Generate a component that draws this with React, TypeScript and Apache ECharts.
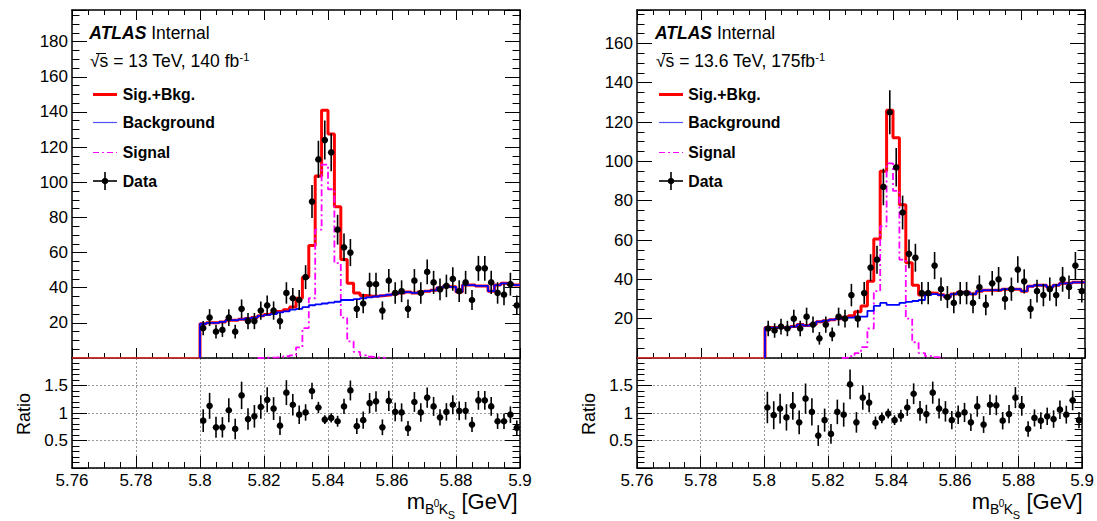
import React, { useEffect, useRef } from 'react';
import * as echarts from 'echarts';

// ---------- binning ----------
const binLow = 5.8;
const binWidth = 0.002;
const xMin = 5.76;
const xMax = 5.9;
const xTickStep = 0.02;

// ---------- left panel (13 TeV, 140 fb-1) ----------
const dataL = [17, 23, 15, 16, 23, 15, 28, 21, 21, 27, 30, 27, 21, 37, 34, 33, 46, 89, 113, 124, 117, 73, 63, 60, 28, 31, 42, 42, 27, 44, 37, 38, 28, 44, 37, 49, 43, 39, 41, 45, 38, 43, 33, 51, 51, 43, 37, 36, 42, 30];
const errL = [4.1, 4.8, 3.9, 4.0, 4.8, 3.9, 5.3, 4.6, 4.6, 5.2, 5.5, 5.2, 4.6, 6.1, 5.8, 5.7, 6.8, 9.4, 10.6, 11.1, 10.8, 8.5, 7.9, 7.7, 5.3, 5.6, 6.5, 6.5, 5.2, 6.6, 6.1, 6.2, 5.3, 6.6, 6.1, 7.0, 6.6, 6.2, 6.4, 6.7, 6.2, 6.6, 5.7, 7.1, 7.1, 6.6, 6.1, 6.0, 6.5, 5.5];
const bkgL = [19.5, 20, 20, 20.5, 21.5, 21.5, 22, 22.5, 23, 24, 24.5, 25, 26, 26.5, 27.5, 28, 29, 30, 30.5, 31, 31.5, 32, 33, 33, 33.5, 34, 34.5, 35, 35.5, 36, 36.5, 37, 37.5, 37, 37.5, 38, 38.5, 40, 41, 40.5, 37.5, 41.5, 41.5, 41, 41, 38, 41.5, 42.5, 42, 41.5];
const sigL = [0, 0, 0, 0, 0, 0, 0, 0, 0, 0.1, 0.2, 0.3, 0.5, 1, 1.5, 6, 17, 34, 73, 110, 96, 54, 23, 9.5, 3.5, 1.5, 0.7, 0.3, 0.1, 0, 0, 0, 0, 0, 0, 0, 0, 0, 0, 0, 0, 0, 0, 0, 0, 0, 0, 0, 0, 0];
const ratioL = [0.86, 1.13, 0.74, 0.74, 1.05, 0.71, 1.32, 0.89, 0.94, 1.11, 1.24, 1.08, 0.77, 1.37, 1.15, 0.97, 1.01, 1.40, 1.10, 0.88, 0.91, 0.85, 1.12, 1.41, 0.76, 0.87, 1.18, 1.21, 0.74, 1.22, 1.02, 1.01, 0.72, 1.20, 1.01, 1.28, 1.12, 0.92, 1.02, 1.15, 1.04, 1.04, 0.79, 1.23, 1.23, 1.12, 0.85, 0.85, 0.97, 0.73];

// ---------- right panel (13.6 TeV, 175 fb-1) ----------
const dataR = [15, 14, 16, 15, 20, 15, 21, 17, 10, 17, 12, 21, 20, 32, 20, 33, 46, 50, 87, 125, 97, 74, 53, 51, 33, 33, 47, 35, 31, 28, 33, 33, 28, 36, 27, 38, 40, 30, 35, 45, 39, 25, 34, 32, 35, 32, 40, 36, 47, 34];
const errR = [3.9, 3.7, 4.0, 3.9, 4.5, 3.9, 4.6, 4.1, 3.2, 4.1, 3.5, 4.6, 4.5, 5.7, 4.5, 5.7, 6.8, 7.1, 9.3, 11.2, 9.8, 8.6, 7.3, 7.1, 5.7, 5.7, 6.9, 5.9, 5.6, 5.3, 5.7, 5.7, 5.3, 6.0, 5.2, 6.2, 6.3, 5.5, 5.9, 6.7, 6.2, 5.0, 5.8, 5.7, 5.9, 5.7, 6.3, 6.0, 6.9, 5.8];
const bkgR = [15.5, 15.5, 15.5, 15.5, 16, 17, 16.5, 17, 18.5, 19, 19.5, 20, 20.5, 20.5, 21, 21, 24, 26.5, 28, 27, 27, 28, 28.5, 29, 29.5, 32, 32.5, 32, 31, 32.5, 33.5, 33.5, 32.5, 34, 34.5, 34.5, 34.5, 35, 35, 35, 34, 36.5, 37, 37, 36, 37, 38, 38, 38.5, 38.5];
const sigR = [0, 0, 0, 0, 0, 0, 0, 0, 0, 0, 0, 0, 0.2, 1, 2.5, 5.5, 15, 34, 67, 99, 85, 50, 20, 8, 2.5, 1, 0.4, 0.2, 0, 0, 0, 0, 0, 0, 0, 0, 0, 0, 0, 0, 0, 0, 0, 0, 0, 0, 0, 0, 0, 0];
const ratioR = [1.10, 0.96, 1.08, 0.92, 1.13, 0.83, 1.26, 1.02, 0.59, 0.87, 0.62, 1.02, 0.97, 1.52, 0.83, 1.28, 1.19, 0.82, 0.91, 0.99, 0.87, 0.95, 1.10, 1.35, 1.04, 0.98, 1.37, 1.08, 1.03, 0.87, 0.97, 1.01, 0.83, 1.12, 0.79, 1.15, 1.14, 0.86, 0.98, 1.28, 1.13, 0.71, 0.91, 0.86, 0.94, 0.89, 1.06, 0.97, 1.23, 0.87];

const yMaxL = 198;
const yMaxR = 177;
const yStepMain = 20;
const ratioMax = 2;
const ratioStep = 0.5;

const legendLabels = ['Sig.+Bkg.', 'Background', 'Signal', 'Data'];
const energyL = '\u221As = 13 TeV, 140 fb';
const energyR = '\u221As = 13.6 TeV, 175fb';

const FONT = 'Liberation Sans';

const edge = (k: number) => +(binLow + k * binWidth).toFixed(4);
const center = (k: number) => +(binLow + (k + 0.5) * binWidth).toFixed(4);

function stepPoints(vals: number[]) {
  const pts: number[][] = [[binLow, 0]];
  vals.forEach((v, k) => pts.push([edge(k), v]));
  pts.push([edge(vals.length), vals[vals.length - 1]]);
  return pts;
}
function sigPoints(vals: number[]) {
  const i0 = vals.findIndex((v) => v > 0);
  let i1 = vals.length - 1;
  while (i1 > 0 && vals[i1] <= 0) i1--;
  const pts: number[][] = [[edge(i0), 0]];
  for (let k = i0; k <= i1; k++) pts.push([edge(k), vals[k]]);
  pts.push([edge(i1 + 1), vals[i1]]);
  pts.push([edge(i1 + 1), 0]);
  return pts;
}

const errorRender = (params: any, api: any) => {
  const x = api.value(0), y = api.value(1), e = api.value(2);
  const c = api.coord([x, y]);
  const t = api.coord([x, y + e]);
  const b = api.coord([x, y - e]);
  return {
    type: 'group',
    children: [
      { type: 'line', shape: { x1: c[0], y1: t[1], x2: c[0], y2: b[1] }, style: { stroke: '#000', lineWidth: 1.6 } },
      { type: 'circle', shape: { cx: c[0], cy: c[1], r: 3.3 }, style: { fill: '#000' } },
    ],
  };
};

function xAx(gridIndex: number, position: string, tick: number, minor: number, labels: boolean, grid: boolean) {
  return {
    type: 'value', gridIndex, position, min: xMin, max: xMax, interval: xTickStep,
    axisLine: { show: true, onZero: false, lineStyle: { color: '#000', width: 1.5 } },
    axisTick: { show: true, inside: true, length: tick, lineStyle: { color: '#000', width: 1 } },
    minorTick: { show: true, splitNumber: 4, length: minor, lineStyle: { color: '#000', width: 1 } },
    axisLabel: labels
      ? { show: true, margin: 4, color: '#000', fontFamily: FONT, fontSize: 17, showMinLabel: true, showMaxLabel: true,
          formatter: (v: number) => String(+v.toFixed(3)) }
      : { show: false },
    splitLine: grid ? { show: true, lineStyle: { type: [2, 2], color: '#999', width: 1 } } : { show: false },
    minorSplitLine: { show: false },
  };
}
function yAx(gridIndex: number, position: string, max: number, interval: number, splitNumber: number, labels: boolean, grid: boolean) {
  return {
    type: 'value', gridIndex, position, min: 0, max, interval,
    axisLine: { show: true, onZero: false, lineStyle: { color: '#000', width: 1.5 } },
    axisTick: { show: true, inside: true, length: 15, lineStyle: { color: '#000', width: 1 } },
    minorTick: { show: true, splitNumber, length: 7.5, lineStyle: { color: '#000', width: 1 } },
    axisLabel: labels
      ? { show: true, margin: 4, color: '#000', fontFamily: FONT, fontSize: 17, showMinLabel: false, showMaxLabel: false,
          formatter: (v: number) => String(+v.toFixed(2)) }
      : { show: false },
    splitLine: grid ? { show: true, lineStyle: { type: [2, 2], color: '#999', width: 1 } } : { show: false },
    minorSplitLine: { show: false },
  };
}

function overlay(p: { atlasX: number; enX: number; lx1: number; lx2: number; tx: number; ratioX: number; titleX: number; frameR: number }, energy: string) {
  const rows = [94.5, 122.5, 152.5, 181];
  const lc = (p.lx1 + p.lx2) / 2;
  const ty = 501;
  const els: any[] = [
    { type: 'text', x: p.atlasX, y: 33, style: { text: '{a|ATLAS} Internal', fill: '#000', fontFamily: FONT, fontSize: 17.5, verticalAlign: 'middle',
      rich: { a: { fontStyle: 'italic', fontWeight: 'bold', fontFamily: FONT, fontSize: 17.5, fill: '#000' } } } },
    { type: 'text', x: p.enX, y: 61, style: { text: '{n|' + energy + '}{s|-1}', fill: '#000', fontFamily: FONT, fontSize: 17.5, verticalAlign: 'middle',
      rich: {
        n: { fontFamily: FONT, fontSize: 17.5, fill: '#000', lineHeight: 20, verticalAlign: 'middle' },
        s: { fontFamily: FONT, fontSize: 11, fill: '#000', lineHeight: 11, verticalAlign: 'top' },
      } } },
    { type: 'line', shape: { x1: p.enX + 6, y1: 53.5, x2: p.enX + 16, y2: 53.5 }, style: { stroke: '#000', lineWidth: 1 } },
    // legend
    { type: 'line', shape: { x1: p.lx1, y1: rows[0], x2: p.lx2, y2: rows[0] }, style: { stroke: '#ff0000', lineWidth: 3 } },
    { type: 'line', shape: { x1: p.lx1, y1: rows[1], x2: p.lx2, y2: rows[1] }, style: { stroke: '#5050ff', lineWidth: 1.2 } },
    { type: 'line', shape: { x1: p.lx1, y1: rows[2], x2: p.lx2, y2: rows[2] }, style: { stroke: '#ff00ff', lineWidth: 1.2, lineDash: [6, 3, 2, 3] } },
    { type: 'line', shape: { x1: p.lx1, y1: rows[3], x2: p.lx2, y2: rows[3] }, style: { stroke: '#000', lineWidth: 1.6 } },
    { type: 'line', shape: { x1: lc, y1: rows[3] - 9, x2: lc, y2: rows[3] + 9 }, style: { stroke: '#000', lineWidth: 1.6 } },
    { type: 'circle', shape: { cx: lc, cy: rows[3], r: 3.3 }, style: { fill: '#000' } },
    ...legendLabels.map((t, i) => ({ type: 'text', x: p.tx, y: rows[i], style: { text: t, fill: '#000', fontFamily: FONT, fontSize: 15.8, fontWeight: 'bold', verticalAlign: 'middle' } })),
    // ratio title
    { type: 'text', x: p.ratioX, y: 414, rotation: Math.PI / 2, style: { text: 'Ratio', fill: '#000', fontFamily: FONT, fontSize: 18, align: 'center', verticalAlign: 'middle' } },
    // x title  m_{B^0 K_S} [GeV]
    { type: 'text', x: p.titleX, y: ty, style: { text: 'm', fill: '#000', fontFamily: FONT, fontSize: 22, verticalAlign: 'middle' } },
    { type: 'text', x: p.titleX + 18.3, y: ty + 8, style: { text: 'B', fill: '#000', fontFamily: FONT, fontSize: 14, verticalAlign: 'middle' } },
    { type: 'text', x: p.titleX + 27, y: ty + 2.5, style: { text: '0', fill: '#000', fontFamily: FONT, fontSize: 10, verticalAlign: 'middle' } },
    { type: 'text', x: p.titleX + 32, y: ty + 8, style: { text: 'K', fill: '#000', fontFamily: FONT, fontSize: 14, verticalAlign: 'middle' } },
    { type: 'text', x: p.titleX + 41, y: ty + 13.5, style: { text: 'S', fill: '#000', fontFamily: FONT, fontSize: 11, verticalAlign: 'middle' } },
    { type: 'text', x: p.frameR - 2.3, y: ty, style: { text: '[GeV]', fill: '#000', fontFamily: FONT, fontSize: 22, align: 'right', verticalAlign: 'middle' } },
  ];
  return els;
}

function panelSeries(data: number[], err: number[], bkg: number[], sig: number[], ratio: number[], xm: number, ym: number, xr: number, yr: number) {
  const total = bkg.map((b, k) => b + sig[k]);
  const base = { type: 'line', showSymbol: false, symbol: 'none', step: 'end', xAxisIndex: xm, yAxisIndex: ym, silent: true };
  return [
    // empty region below the first bin: fit drawn at zero
    { ...base, step: false, name: 'Sig.+Bkg. (empty)', data: [[xMin, 0], [binLow, 0]], lineStyle: { color: '#ff3030', width: 1.6 }, z: 3 },
    { ...base, name: 'Sig.+Bkg.', data: stepPoints(total), lineStyle: { color: '#ff0000', width: 3 }, z: 3 },
    { ...base, name: 'Signal', data: sigPoints(sig), lineStyle: { color: '#ff00ff', width: 1.8, type: [7, 3, 2, 3] }, z: 3 },
    { ...base, name: 'Background', data: stepPoints(bkg), lineStyle: { color: '#0000ff', width: 1.8 }, z: 4 },
    { type: 'custom', name: 'Data', xAxisIndex: xm, yAxisIndex: ym, renderItem: errorRender, z: 5,
      data: data.map((d, k) => [center(k), d, err[k]]) },
    { type: 'custom', name: 'Ratio', xAxisIndex: xr, yAxisIndex: yr, renderItem: errorRender, z: 5,
      data: ratio.map((r, k) => [center(k), r, +(r * err[k] / data[k]).toFixed(3)]) },
  ];
}

export default function App() {
  const ref = useRef<HTMLDivElement>(null);
  useEffect(() => {
    document.body.style.margin = '0';
    const chart = echarts.init(ref.current!, undefined, { renderer: 'svg' });
    const LX = 72, RX = 637, W = 448, TOP = 10, MH = 348, RH = 110;
    chart.setOption({
      animation: false,
      backgroundColor: '#fff',
      grid: [
        { left: LX, top: TOP, width: W, height: MH },
        { left: LX, top: TOP + MH, width: W, height: RH },
        { left: RX, top: TOP, width: W, height: MH },
        { left: RX, top: TOP + MH, width: W, height: RH },
      ],
      xAxis: [
        xAx(0, 'bottom', 10, 5, false, false),
        xAx(0, 'top', 10, 5, false, false),
        xAx(1, 'bottom', 12, 6, true, true),
        xAx(2, 'bottom', 10, 5, false, false),
        xAx(2, 'top', 10, 5, false, false),
        xAx(3, 'bottom', 12, 6, true, true),
      ],
      yAxis: [
        yAx(0, 'left', yMaxL, yStepMain, 4, true, false),
        yAx(0, 'right', yMaxL, yStepMain, 4, false, false),
        yAx(1, 'left', ratioMax, ratioStep, 5, true, true),
        yAx(1, 'right', ratioMax, ratioStep, 5, false, false),
        yAx(2, 'left', yMaxR, yStepMain, 4, true, false),
        yAx(2, 'right', yMaxR, yStepMain, 4, false, false),
        yAx(3, 'left', ratioMax, ratioStep, 5, true, true),
        yAx(3, 'right', ratioMax, ratioStep, 5, false, false),
      ],
      series: [
        ...panelSeries(dataL, errL, bkgL, sigL, ratioL, 0, 0, 2, 2),
        ...panelSeries(dataR, errR, bkgR, sigR, ratioR, 3, 4, 5, 6),
      ],
      graphic: {
        elements: [
          ...overlay({ atlasX: 89.3, enX: 90, lx1: 93, lx2: 117, tx: 122.7, ratioX: 24, titleX: 406.7, frameR: 520 }, energyL),
          ...overlay({ atlasX: 655, enX: 656, lx1: 659, lx2: 683, tx: 688.3, ratioX: 589, titleX: 971.7, frameR: 1085 }, energyR),
        ],
      },
    });
    return () => chart.dispose();
  }, []);
  return <div ref={ref} style={{ width: 1097, height: 521 }} />;
}
